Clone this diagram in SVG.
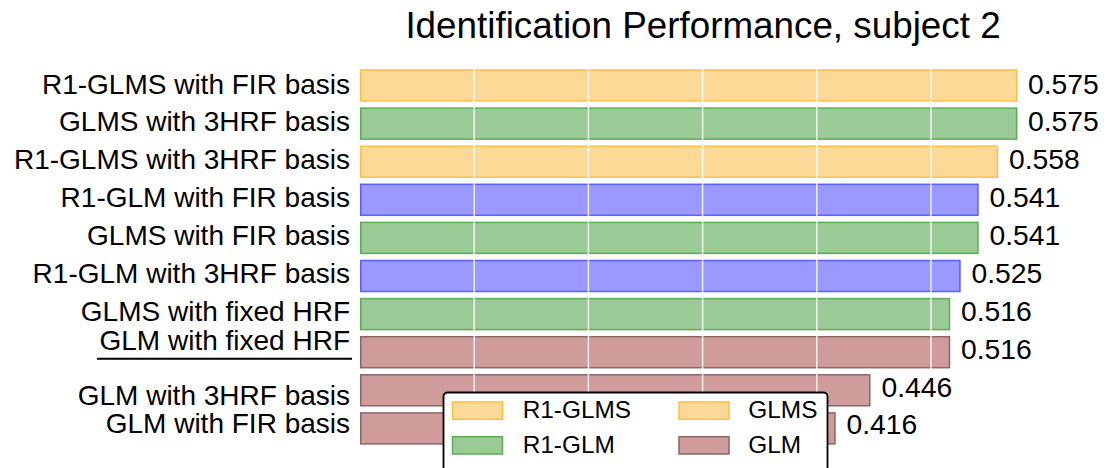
<svg xmlns="http://www.w3.org/2000/svg" width="1106" height="468" viewBox="0 0 1106 468">
<style>
text{font-family:"Liberation Sans",Arial,Helvetica,sans-serif;fill:#000}
.lab{font-size:28px;text-anchor:end}
.val{font-size:28.3px}
.leg{font-size:24.4px}
.or{fill:#FDD997;stroke:#FFBF45;stroke-width:1.5}
.gr{fill:#9ACB97;stroke:#58AD55;stroke-width:1.5}
.bl{fill:#9999FF;stroke:#5E5EFF;stroke-width:1.5}
.br{fill:#CF9B9B;stroke:#8A6666;stroke-width:1.5}
.grid{stroke:#FFFFFF;stroke-width:1.5;stroke-opacity:0.85}
</style>
<rect x="0" y="0" width="1106" height="468" fill="#FFFFFF"/>
<text id="title" x="703" y="37.5" style="font-size:36.8px;text-anchor:middle">Identification Performance, subject 2</text>
<g id="bars">
<rect id="bar0" class="or" x="360.75" y="70" width="655.9" height="31"/>
<rect id="bar1" class="gr" x="360.75" y="108.1" width="655.9" height="31"/>
<rect id="bar2" class="or" x="360.75" y="146.2" width="636.7" height="31"/>
<rect id="bar3" class="bl" x="360.75" y="184.3" width="617.2" height="31"/>
<rect id="bar4" class="gr" x="360.75" y="222.4" width="617.2" height="31"/>
<rect id="bar5" class="bl" x="360.75" y="260.5" width="599.2" height="31"/>
<rect id="bar6" class="gr" x="360.75" y="298.6" width="588.7" height="31"/>
<rect id="bar7" class="br" x="360.75" y="336.7" width="588.7" height="31"/>
<rect id="bar8" class="br" x="360.75" y="374.8" width="509" height="31"/>
<rect id="bar9" class="br" x="360.75" y="412.9" width="474.2" height="31"/>
</g>
<g id="grid">
<line class="grid" x1="474.2" y1="66" x2="474.2" y2="448"/>
<line class="grid" x1="588.4" y1="66" x2="588.4" y2="448"/>
<line class="grid" x1="702.6" y1="66" x2="702.6" y2="448"/>
<line class="grid" x1="816.8" y1="66" x2="816.8" y2="448"/>
<line class="grid" x1="931" y1="66" x2="931" y2="448"/>
</g>
<g id="labels">
<text class="lab" x="350" y="93.5">R1-GLMS with FIR basis</text>
<text class="lab" x="350" y="131.4">GLMS with 3HRF basis</text>
<text class="lab" x="350" y="169.3">R1-GLMS with 3HRF basis</text>
<text class="lab" x="350" y="207.2">R1-GLM with FIR basis</text>
<text class="lab" x="350" y="245.1">GLMS with FIR basis</text>
<text class="lab" x="350" y="283">R1-GLM with 3HRF basis</text>
<text class="lab" x="350" y="320.9">GLMS with fixed HRF</text>
<text class="lab" x="350" y="350.2">GLM with fixed HRF</text>
<line x1="97" y1="358.8" x2="352" y2="358.8" stroke="#000" stroke-width="2"/>
<text class="lab" x="350" y="404.7">GLM with 3HRF basis</text>
<text class="lab" x="350" y="432.7">GLM with FIR basis</text>
</g>
<g id="values">
<text class="val" x="1028" y="93.5">0.575</text>
<text class="val" x="1028" y="131.4">0.575</text>
<text class="val" x="1009" y="169.3">0.558</text>
<text class="val" x="989.5" y="207.2">0.541</text>
<text class="val" x="989.5" y="245.1">0.541</text>
<text class="val" x="971.5" y="283">0.525</text>
<text class="val" x="961" y="320.9">0.516</text>
<text class="val" x="961" y="358.6">0.516</text>
<text class="val" x="881.5" y="396.5">0.446</text>
<text class="val" x="846.5" y="434.4">0.416</text>
</g>
<g id="legend">
<rect x="443.5" y="392.5" width="384" height="85" rx="4" ry="4" fill="#FFFFFF" stroke="#000" stroke-width="1.8"/>
<rect class="or" x="452.5" y="402" width="50" height="17.3"/>
<text class="leg" x="522.7" y="417.5">R1-GLMS</text>
<rect class="gr" x="452.5" y="436.7" width="50" height="17.3"/>
<text class="leg" x="522.7" y="452.5">R1-GLM</text>
<rect class="or" x="679" y="402" width="50" height="17.3"/>
<text class="leg" x="748.3" y="417.5">GLMS</text>
<rect class="br" x="679" y="436.7" width="50" height="17.3"/>
<text class="leg" x="748.3" y="452.5">GLM</text>
</g>
</svg>
